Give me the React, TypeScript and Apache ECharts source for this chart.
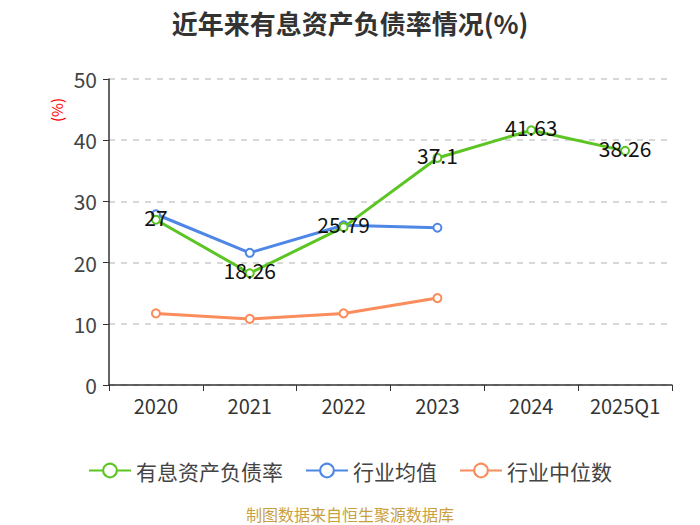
import React, { useEffect, useRef } from "react";
import * as echarts from "echarts";

const categories = ["2020", "2021", "2022", "2023", "2024", "2025Q1"];
const debtRatio = [27, 18.26, 25.79, 37.1, 41.63, 38.26];
const industryAvg = [27.9, 21.6, 26.1, 25.7, null, null];
const industryMedian = [11.7, 10.8, 11.7, 14.2, null, null];
const yTicks = { min: 0, max: 50, interval: 10 };

const FONT = "'Noto Sans CJK SC', 'Noto Sans', sans-serif";

export default function App() {
  const ref = useRef<HTMLDivElement>(null);
  useEffect(() => {
    if (!ref.current) return;
    const chart = echarts.init(ref.current, undefined, { renderer: "svg" });
    const lineSeries = (name: string, data: (number | null)[], color: string, label: boolean) => ({
      name,
      type: "line",
      data,
      symbol: "emptyCircle",
      symbolSize: 8,
      showSymbol: true,
      lineStyle: { color, width: 3 },
      itemStyle: { color, borderWidth: 2 },
      label: label
        ? {
            show: true,
            position: "inside",
            offset: [0, -3],
            color: "#111",
            fontSize: 21,
            fontFamily: FONT,
          }
        : { show: false },
      z: label ? 3 : 2,
    });
    chart.setOption({
      animation: false,
      backgroundColor: "#fff",
      title: {
        text: "近年来有息资产负债率情况(%)",
        left: "center",
        top: 4,
        textStyle: { fontSize: 26, fontWeight: "bold", color: "#333", fontFamily: FONT },
      },
      grid: { left: 109, right: 28, top: 79, bottom: 140 },
      legend: {
        top: 455,
        left: "center",
        itemWidth: 42,
        itemHeight: 17,
        itemGap: 22,
        textStyle: { fontSize: 21, color: "#444", fontFamily: FONT },
        data: ["有息资产负债率", "行业均值", "行业中位数"],
      },
      xAxis: {
        type: "category",
        data: categories,
        boundaryGap: true,
        axisLine: { lineStyle: { color: "#333", width: 1.5 } },
        axisTick: { show: true, length: 6, interval: 0, lineStyle: { color: "#333" } },
        axisLabel: { fontSize: 20, color: "#333", margin: 10, interval: 0, fontFamily: FONT },
      },
      yAxis: {
        type: "value",
        min: yTicks.min,
        max: yTicks.max,
        interval: yTicks.interval,
        axisLine: { show: true, lineStyle: { color: "#333", width: 1.5 } },
        axisTick: { show: true, length: 6, lineStyle: { color: "#333" } },
        axisLabel: { fontSize: 21, color: "#444", margin: 12, fontFamily: FONT },
        splitLine: { lineStyle: { type: [6, 6], color: "#ccc", width: 1.5 } },
      },
      graphic: [
        {
          type: "text",
          x: 56,
          y: 110,
          rotation: Math.PI / 2,
          style: {
            text: "(%)",
            fill: "#f00",
            fontSize: 15,
            fontFamily: FONT,
            align: "center",
            verticalAlign: "middle",
          },
        },
        {
          type: "text",
          left: "center",
          top: 506,
          style: {
            text: "制图数据来自恒生聚源数据库",
            fill: "#c9a03e",
            fontSize: 16,
            fontFamily: FONT,
          },
        },
      ],
      series: [
        lineSeries("有息资产负债率", debtRatio, "#5cc524", true),
        lineSeries("行业均值", industryAvg, "#4f87e6", false),
        lineSeries("行业中位数", industryMedian, "#fb8c5c", false),
      ],
    });
    return () => chart.dispose();
  }, []);
  return (
    <div
      ref={ref}
      style={{ position: "fixed", left: 0, top: 0, width: 700, height: 525 }}
    />
  );
}
